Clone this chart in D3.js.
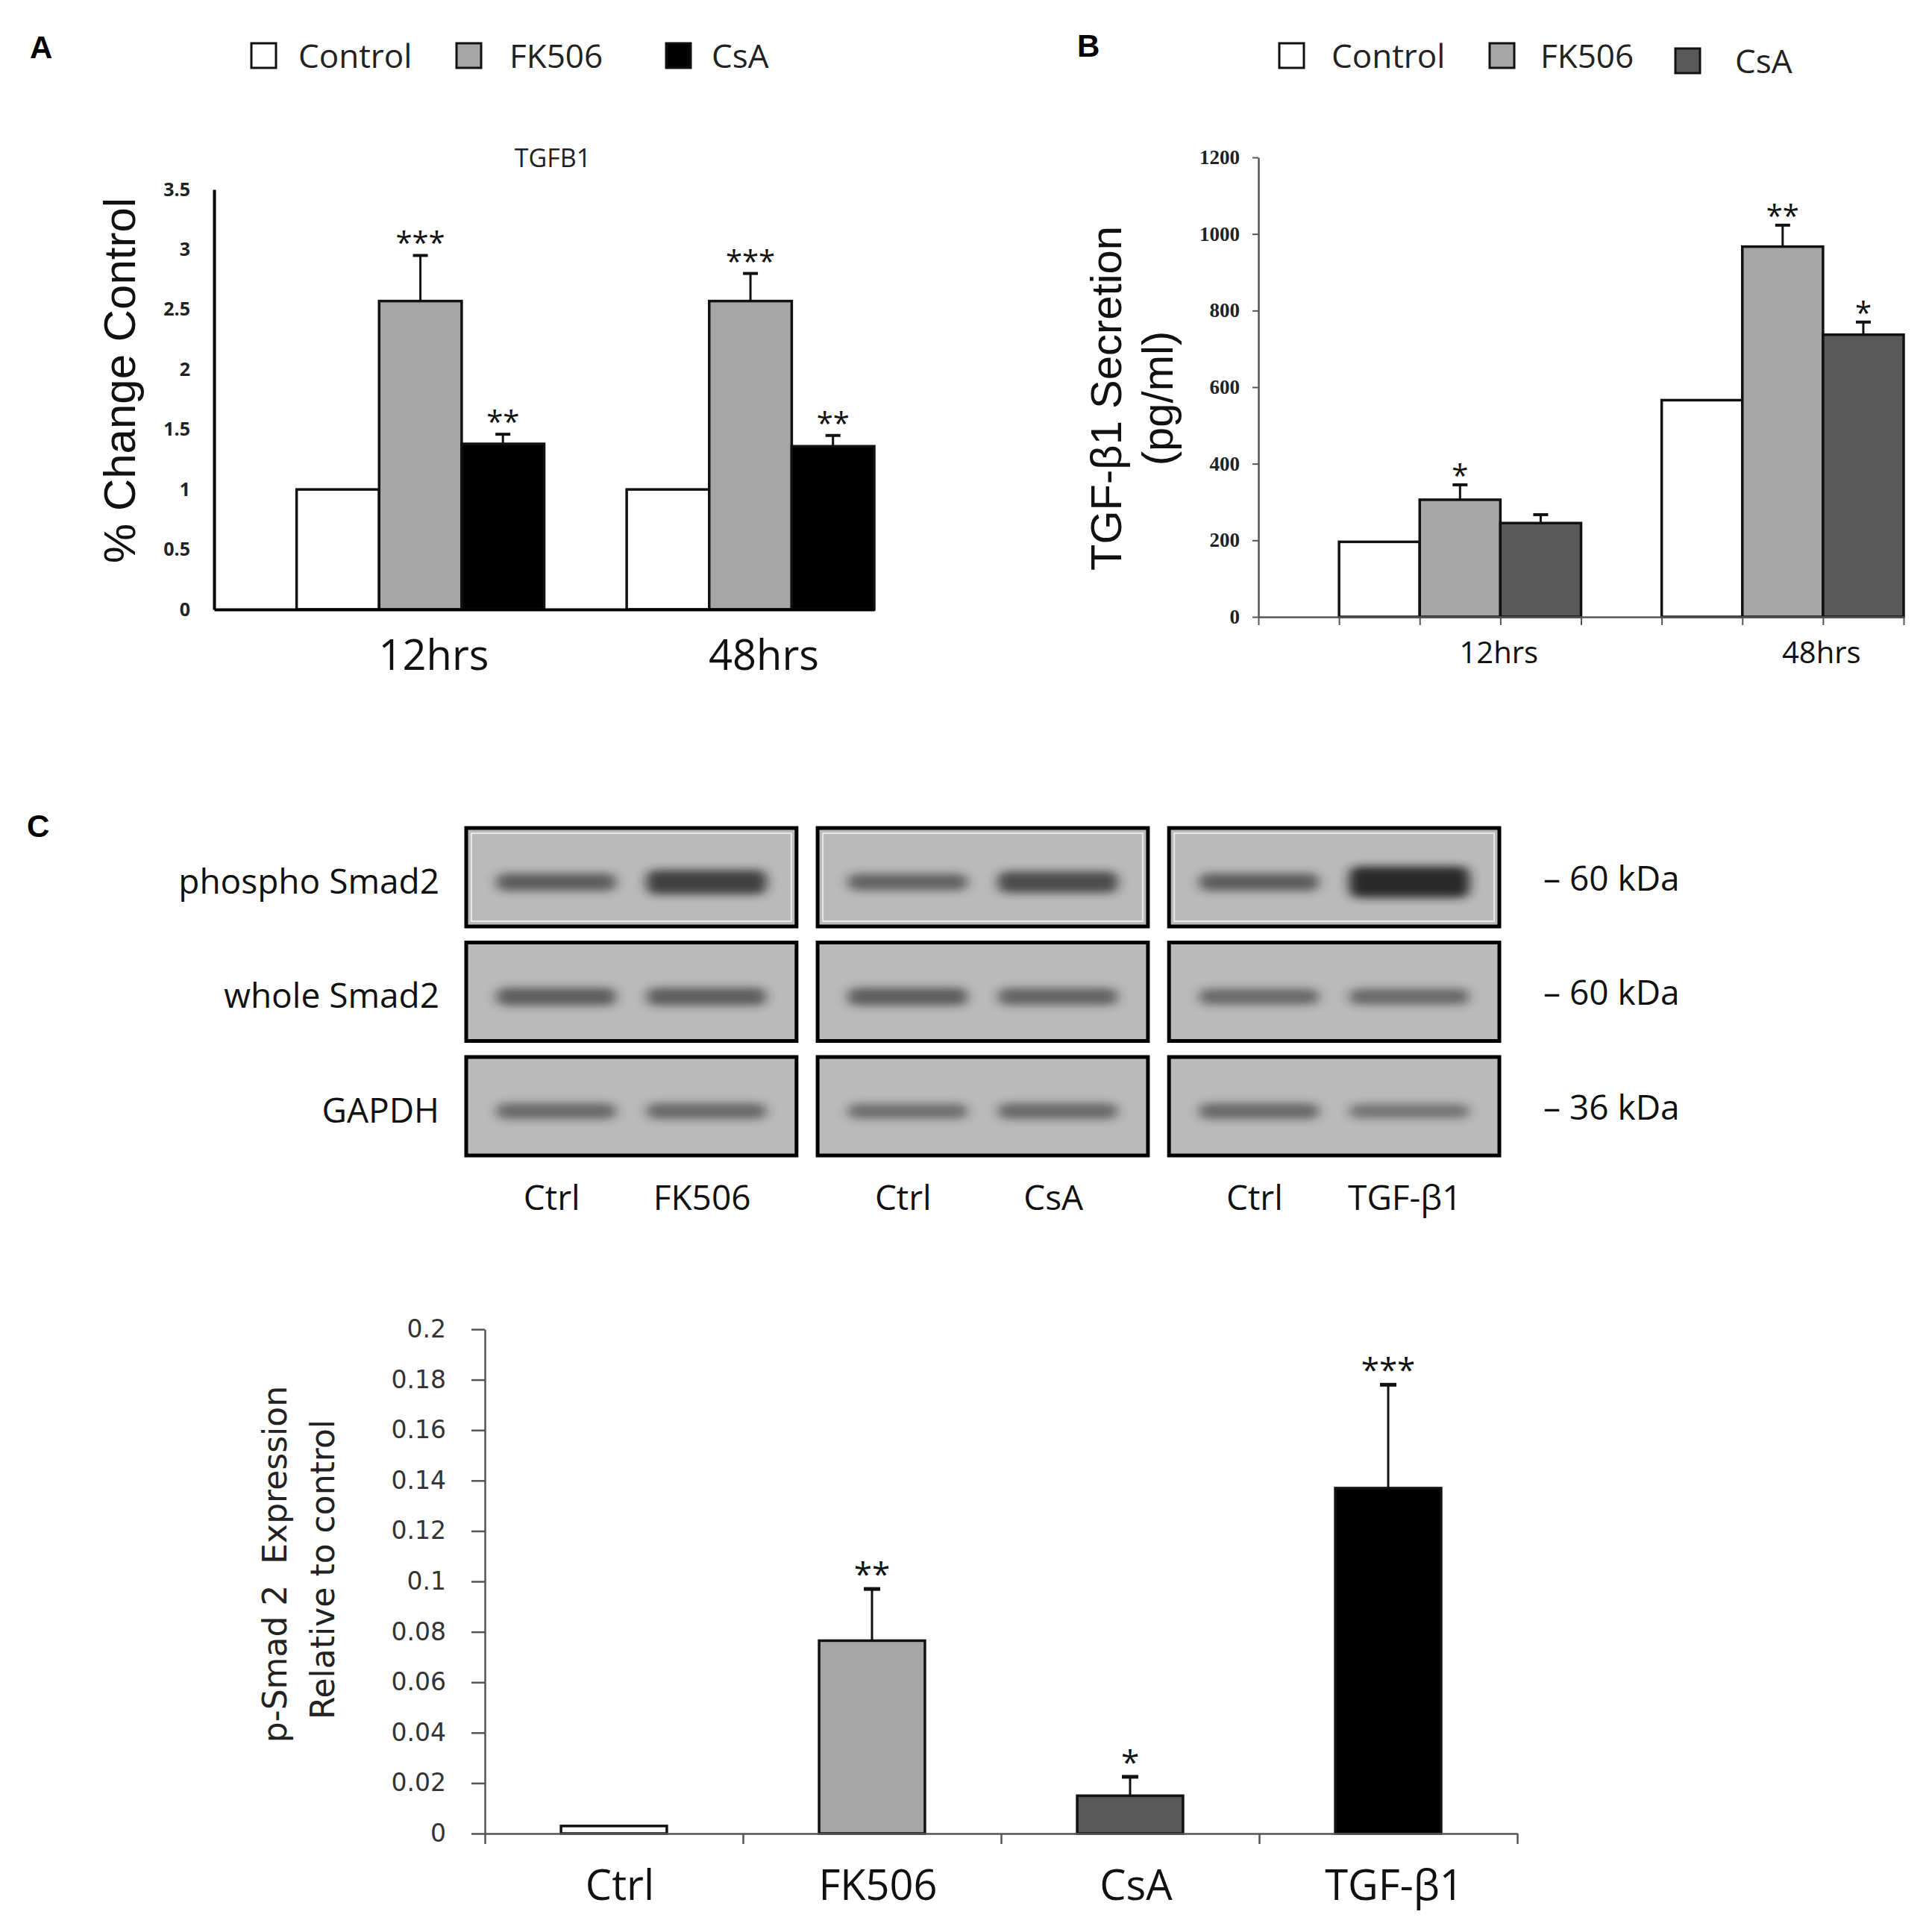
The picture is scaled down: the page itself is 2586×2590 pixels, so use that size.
<!DOCTYPE html>
<html>
<head>
<meta charset="utf-8">
<script src="https://cdnjs.cloudflare.com/ajax/libs/d3/7.8.5/d3.min.js"></script>
<style>
  body { margin: 0; background: #fff; }
</style>
</head>
<body>
<div id="chart-area"></div>
<script>
/*
*    TGF-beta1 / Smad2 figure (panels A, B, C)
*/

// ---- data ----
var timepoints = ["12hrs", "48hrs"];
var groups = ["Control", "FK506", "CsA"];

// panel A: TGFB1 mRNA, fold of control
var mrnaMeans = [[1.0, 2.57, 1.38], [1.0, 2.57, 1.36]];
var mrnaErrors = [[0, 0.38, 0.08], [0, 0.23, 0.09]];
var mrnaStars = [["", "***", "**"], ["", "***", "**"]];
var mrnaTicks = [0, 0.5, 1, 1.5, 2, 2.5, 3, 3.5];

// panel B: secreted TGF-b1 (pg/ml)
var secretionMeans = [[196, 306, 245], [566, 967, 737]];
var secretionErrors = [[0, 39, 22], [0, 56, 33]];
var secretionStars = [["", "*", ""], ["", "**", "*"]];
var secretionTicks = [0, 200, 400, 600, 800, 1000, 1200];

// panel C: blots
var blotRows = ["phospho Smad2", "whole Smad2", "GAPDH"];
var blotSizes = ["– 60 kDa", "– 60 kDa", "– 36 kDa"];
var blotLanes = [["Ctrl", "FK506"], ["Ctrl", "CsA"], ["Ctrl", "TGF-β1"]];
var bandDensity = [
  [[0.55, 0.8], [0.5, 0.7], [0.55, 1.0]],
  [[0.55, 0.55], [0.55, 0.5], [0.45, 0.45]],
  [[0.45, 0.45], [0.4, 0.45], [0.45, 0.35]]
];

// panel C: p-Smad2 quantification
var treatments = ["Ctrl", "FK506", "CsA", "TGF-β1"];
var pSmadMeans = [0.003, 0.0765, 0.015, 0.137];
var pSmadErrors = [0, 0.0205, 0.0075, 0.041];
var pSmadStars = ["", "**", "*", "***"];
var pSmadTicks = [0, 0.02, 0.04, 0.06, 0.08, 0.1, 0.12, 0.14, 0.16, 0.18, 0.2];

var width = 2586;
var height = 2590;

var svg = d3.select("#chart-area").append("svg")
              .attr("width", width)
              .attr("height", height)
              .style("background", "#fff");

var defs = svg.append("defs");
defs.append("filter")
      .attr("id", "blur")
      .attr("x", "-20%").attr("y", "-80%")
      .attr("width", "140%").attr("height", "260%")
    .append("feGaussianBlur")
      .attr("stdDeviation", "8 6");

// panel letters
[["A", 40, 78], ["B", 1444, 76], ["C", 36, 1122]].forEach((p) => {
  svg.append("text")
    .attr("x", p[1]).attr("y", p[2])
    .attr("font-family", "Liberation Sans, Arial, sans-serif")
    .attr("font-weight", "bold")
    .attr("font-size", "42px")
    .text(p[0]);
});

// legend helper
function legend(sqX, txtX, ys, colors) {
  groups.forEach((name, i) => {
    svg.append("rect")
      .attr("x", sqX[i]).attr("y", ys[i] - 33)
      .attr("width", 33).attr("height", 33)
      .attr("fill", colors[i])
      .attr("stroke", "#111").attr("stroke-width", 3);
    svg.append("text")
      .attr("x", txtX[i]).attr("y", ys[i])
      .attr("font-family", "Open Sans, sans-serif")
      .attr("font-size", "44px")
      .style("fill", "#222")
      .text(name);
  });
}

// grouped bar chart helper (A and B share the layout: empty slot + 3 bars per time point)
function groupedBars(cfg) {
  var g = svg.append("g");

  var y = d3.scaleLinear()
            .domain([0, cfg.ticks[cfg.ticks.length - 1]])
            .range([cfg.bottom, cfg.top]);

  var x0 = d3.scaleBand()
            .domain(timepoints)
            .range([cfg.left, cfg.right])
            .paddingInner(0)
            .paddingOuter(0);

  var x1 = d3.scaleBand()
            .domain([""].concat(groups))
            .range([0, x0.bandwidth()]);

  var bars = [];
  timepoints.forEach((t, i) => {
    groups.forEach((s, j) => {
      bars.push({t: t, s: s, j: j, v: cfg.means[i][j], e: cfg.errors[i][j], star: cfg.stars[i][j]});
    });
  });

  g.selectAll("rect.bar")
    .data(bars)
    .enter()
    .append("rect")
      .attr("class", "bar")
      .attr("x", (d) => { return x0(d.t) + x1(d.s); })
      .attr("y", (d) => { return y(d.v); })
      .attr("width", x1.bandwidth())
      .attr("height", (d) => { return y(0) - y(d.v); })
      .attr("fill", (d) => { return cfg.colors[d.j]; })
      .attr("stroke", "#111")
      .attr("stroke-width", 3.5);

  var withErr = bars.filter((d) => { return d.e > 0; });
  var cx = (d) => { return x0(d.t) + x1(d.s) + x1.bandwidth() / 2; };

  g.selectAll("line.err")
    .data(withErr)
    .enter()
    .append("line")
      .attr("class", "err")
      .attr("x1", cx).attr("x2", cx)
      .attr("y1", (d) => { return y(d.v); })
      .attr("y2", (d) => { return y(d.v + d.e); })
      .attr("stroke", "#111").attr("stroke-width", 3);

  g.selectAll("line.cap")
    .data(withErr)
    .enter()
    .append("line")
      .attr("class", "cap")
      .attr("x1", (d) => { return cx(d) - 10; })
      .attr("x2", (d) => { return cx(d) + 10; })
      .attr("y1", (d) => { return y(d.v + d.e); })
      .attr("y2", (d) => { return y(d.v + d.e); })
      .attr("stroke", "#111").attr("stroke-width", 4);

  g.selectAll("text.star")
    .data(withErr.filter((d) => { return d.star !== ""; }))
    .enter()
    .append("text")
      .attr("class", "star")
      .attr("x", cx)
      .attr("y", (d) => { return y(d.v + d.e) + cfg.starShift; })
      .attr("text-anchor", "middle")
      .attr("font-family", "Open Sans, sans-serif")
      .attr("font-size", "40px")
      .style("fill", "#111")
      .text((d) => { return d.star; });

  // y axis
  var leftAxis = d3.axisLeft(y)
                  .tickValues(cfg.ticks)
                  .tickSize(cfg.tickSize)
                  .tickSizeOuter(0)
                  .tickPadding(cfg.tickPadding)
                  .tickFormat((d) => { return String(d); });
  var ya = g.append("g")
            .attr("class", "left axis")
            .attr("transform", "translate(" + cfg.left + ",0)")
            .call(leftAxis);
  ya.select(".domain").attr("stroke", cfg.axisColor).attr("stroke-width", cfg.axisWidth);
  ya.selectAll(".tick line").attr("stroke", cfg.axisColor).attr("stroke-width", 2);
  ya.selectAll("text")
    .attr("font-family", cfg.tickFont)
    .attr("font-weight", "bold")
    .attr("font-size", cfg.tickFontSize)
    .style("fill", "#222");

  // x axis: a tick at every slot edge
  var slots = d3.scaleLinear().domain([0, 8]).range([cfg.left, cfg.right]);
  var bottomAxis = d3.axisBottom(slots)
                    .tickValues(cfg.xTicks ? d3.range(0, 9) : [])
                    .tickSize(11)
                    .tickSizeOuter(0)
                    .tickFormat("");
  var xa = g.append("g")
            .attr("class", "bottom axis")
            .attr("transform", "translate(0," + cfg.bottom + ")")
            .call(bottomAxis);
  xa.select(".domain").attr("stroke", cfg.axisColor).attr("stroke-width", cfg.axisWidth);
  xa.selectAll(".tick line").attr("stroke", cfg.axisColor).attr("stroke-width", 2);

  g.selectAll("text.group")
    .data(timepoints)
    .enter()
    .append("text")
      .attr("class", "group")
      .attr("x", (d) => { return x0(d) + x1("FK506") + x1.bandwidth() / 2 + cfg.labelShift; })
      .attr("y", cfg.labelY)
      .attr("text-anchor", "middle")
      .attr("font-family", "Open Sans, sans-serif")
      .attr("font-size", cfg.labelSize)
      .style("fill", "#111")
      .text((d) => { return d; });

  return g;
}

// ---- panel A ----
legend([337, 612, 893], [400, 683, 954], [91, 91, 91], ["#ffffff", "#a6a6a6", "#000000"]);

svg.append("text")
  .attr("x", 741).attr("y", 224)
  .attr("text-anchor", "middle")
  .attr("font-family", "Open Sans, sans-serif")
  .attr("font-size", "34px")
  .style("fill", "#222")
  .text("TGFB1");

groupedBars({
  means: mrnaMeans, errors: mrnaErrors, stars: mrnaStars, ticks: mrnaTicks,
  colors: ["#ffffff", "#a6a6a6", "#000000"],
  left: 287, right: 1172, top: 254, bottom: 817,
  tickSize: 0, tickPadding: 32, axisColor: "#000", axisWidth: 4,
  tickFont: "Open Sans, sans-serif", tickFontSize: "25px",
  xTicks: false, starShift: -2,
  labelShift: 18, labelY: 898, labelSize: "56px"
});

svg.append("text")
  .attr("transform", "translate(181,510) rotate(-90)")
  .attr("text-anchor", "middle")
  .attr("font-family", "Liberation Sans, Arial, sans-serif")
  .attr("font-size", "60px")
  .style("fill", "#111")
  .text("% Change Control");

// ---- panel B ----
legend([1715, 1997, 2246], [1785, 2065, 2326], [91, 91, 98], ["#ffffff", "#a6a6a6", "#595959"]);

groupedBars({
  means: secretionMeans, errors: secretionErrors, stars: secretionStars, ticks: secretionTicks,
  colors: ["#ffffff", "#a6a6a6", "#595959"],
  left: 1687, right: 2552, top: 211, bottom: 827,
  tickSize: 8, tickPadding: 17, axisColor: "#555", axisWidth: 2.5,
  tickFont: "Liberation Serif, serif", tickFontSize: "27px",
  xTicks: true, starShift: 2,
  labelShift: 52, labelY: 889, labelSize: "40px"
});

svg.append("text")
  .attr("transform", "translate(1503,534) rotate(-90)")
  .attr("text-anchor", "middle")
  .attr("font-family", "Liberation Sans, Arial, sans-serif")
  .attr("font-size", "58px")
  .style("fill", "#111")
  .text("TGF-β1 Secretion");

svg.append("text")
  .attr("transform", "translate(1572,534) rotate(-90)")
  .attr("text-anchor", "middle")
  .attr("font-family", "Liberation Sans, Arial, sans-serif")
  .attr("font-size", "58px")
  .style("fill", "#111")
  .text("(pg/ml)");

// ---- panel C: western blots ----
var colScale = d3.scaleBand().domain([0, 1, 2]).range([625, 2010]).paddingInner(0.06);
var rowScale = d3.scaleBand().domain([0, 1, 2]).range([1110, 1549]).paddingInner(0.14);
var laneScale = d3.scaleBand().domain([0, 1]).range([20, colScale.bandwidth() - 20])
                  .paddingInner(0.2).paddingOuter(0.1);

var blots = svg.append("g").attr("class", "blots");
blotRows.forEach((rowName, r) => {
  blotLanes.forEach((lanes, c) => {
    var bx = colScale(c), by = rowScale(r);
    var bw = colScale.bandwidth(), bh = rowScale.bandwidth();
    var cell = blots.append("g").attr("transform", "translate(" + bx + "," + by + ")");
    cell.append("rect")
      .attr("width", bw).attr("height", bh)
      .attr("fill", "#bababa");
    if (r === 0) {
      cell.append("rect")
        .attr("x", 7).attr("y", 7)
        .attr("width", bw - 14).attr("height", bh - 14)
        .attr("fill", "none")
        .attr("stroke", "#e8e8e8").attr("stroke-width", 2);
    }
    cell.selectAll("rect.band")
      .data(bandDensity[r][c])
      .enter()
      .append("rect")
        .attr("class", "band")
        .attr("x", (d, i) => { return laneScale(i); })
        .attr("width", laneScale.bandwidth())
        .attr("y", (d) => { return bh * 0.55 - (16 + 26 * d * d) / 2; })
        .attr("height", (d) => { return 16 + 26 * d * d; })
        .attr("rx", 12)
        .attr("fill", "#222")
        .attr("opacity", (d) => { return 0.2 + 0.75 * d; })
        .attr("filter", "url(#blur)");
    cell.append("rect")
      .attr("width", bw).attr("height", bh)
      .attr("fill", "none")
      .attr("stroke", "#000").attr("stroke-width", 5);
  });

  svg.append("text")
    .attr("x", 589).attr("y", rowScale(r) + 88)
    .attr("text-anchor", "end")
    .attr("font-family", "Open Sans, sans-serif")
    .attr("font-size", "46px")
    .style("fill", "#111")
    .text(rowName);

  svg.append("text")
    .attr("x", 2069).attr("y", rowScale(r) + 84)
    .attr("font-family", "Open Sans, sans-serif")
    .attr("font-size", "46px")
    .style("fill", "#111")
    .text(blotSizes[r]);
});

blotLanes.forEach((lanes, c) => {
  lanes.forEach((lane, i) => {
    svg.append("text")
      .attr("x", colScale(c) + laneScale(i) + laneScale.bandwidth() / 2 - 6)
      .attr("y", 1622)
      .attr("text-anchor", "middle")
      .attr("font-family", "Open Sans, sans-serif")
      .attr("font-size", "46px")
      .style("fill", "#111")
      .text(lane);
  });
});

// ---- panel C: p-Smad2 bar chart ----
var cLeft = 650, cRight = 2034, cTop = 1782, cBottom = 2458;
var gc = svg.append("g");

var yc = d3.scaleLinear().domain([0, 0.2]).range([cBottom, cTop]);
var xc = d3.scaleBand()
          .domain(treatments)
          .range([cLeft, cRight])
          .paddingInner(0.59)
          .paddingOuter(0.295);
var cColors = ["#ffffff", "#a6a6a6", "#595959", "#000000"];

var cData = treatments.map((t, i) => {
  return {t: t, v: pSmadMeans[i], e: pSmadErrors[i], star: pSmadStars[i], c: cColors[i]};
});

gc.selectAll("rect.bar")
  .data(cData)
  .enter()
  .append("rect")
    .attr("class", "bar")
    .attr("x", (d) => { return xc(d.t); })
    .attr("y", (d) => { return yc(d.v); })
    .attr("width", xc.bandwidth())
    .attr("height", (d) => { return yc(0) - yc(d.v); })
    .attr("fill", (d) => { return d.c; })
    .attr("stroke", "#111")
    .attr("stroke-width", 3.5);

var cErr = cData.filter((d) => { return d.e > 0; });
var ccx = (d) => { return xc(d.t) + xc.bandwidth() / 2; };

gc.selectAll("line.err")
  .data(cErr)
  .enter()
  .append("line")
    .attr("x1", ccx).attr("x2", ccx)
    .attr("y1", (d) => { return yc(d.v); })
    .attr("y2", (d) => { return yc(d.v + d.e); })
    .attr("stroke", "#111").attr("stroke-width", 3);

gc.selectAll("line.cap")
  .data(cErr)
  .enter()
  .append("line")
    .attr("x1", (d) => { return ccx(d) - 11; })
    .attr("x2", (d) => { return ccx(d) + 11; })
    .attr("y1", (d) => { return yc(d.v + d.e); })
    .attr("y2", (d) => { return yc(d.v + d.e); })
    .attr("stroke", "#111").attr("stroke-width", 5);

gc.selectAll("text.star")
  .data(cErr)
  .enter()
  .append("text")
    .attr("x", ccx)
    .attr("y", (d) => { return yc(d.v + d.e) - 4; })
    .attr("text-anchor", "middle")
    .attr("font-family", "Open Sans, sans-serif")
    .attr("font-size", "44px")
    .style("fill", "#111")
    .text((d) => { return d.star; });

var cLeftAxis = d3.axisLeft(yc)
                  .tickValues(pSmadTicks)
                  .tickSize(18)
                  .tickSizeOuter(0)
                  .tickPadding(34)
                  .tickFormat((d) => { return String(d); });
var cya = gc.append("g")
            .attr("class", "left axis")
            .attr("transform", "translate(" + cLeft + ",0)")
            .call(cLeftAxis);
cya.select(".domain").attr("stroke", "#555").attr("stroke-width", 2.5);
cya.selectAll(".tick line").attr("stroke", "#555").attr("stroke-width", 2.5);
cya.selectAll("text")
  .attr("font-family", "DejaVu Sans, Verdana, sans-serif")
  .attr("font-size", "33px")
  .style("fill", "#333");

var cSlots = d3.scaleLinear().domain([0, treatments.length]).range([cLeft, cRight]);
var cxa = gc.append("g")
            .attr("class", "bottom axis")
            .attr("transform", "translate(0," + cBottom + ")")
            .call(d3.axisBottom(cSlots)
                    .tickValues(d3.range(0, treatments.length + 1))
                    .tickSize(14)
                    .tickSizeOuter(0)
                    .tickFormat(""));
cxa.select(".domain").attr("stroke", "#555").attr("stroke-width", 2.5);
cxa.selectAll(".tick line").attr("stroke", "#555").attr("stroke-width", 2.5);

gc.selectAll("text.cat")
  .data(treatments)
  .enter()
  .append("text")
    .attr("class", "cat")
    .attr("x", (d) => { return xc(d) + xc.bandwidth() / 2 + 8; })
    .attr("y", 2547)
    .attr("text-anchor", "middle")
    .attr("font-family", "Open Sans, sans-serif")
    .attr("font-size", "56px")
    .style("fill", "#111")
    .text((d) => { return d; });

svg.append("text")
  .attr("transform", "translate(384,2097) rotate(-90)")
  .attr("text-anchor", "middle")
  .attr("font-family", "DejaVu Sans, Verdana, sans-serif")
  .attr("font-size", "44px")
  .style("white-space", "pre")
  .style("fill", "#222")
  .text("p-Smad 2  Expression");

svg.append("text")
  .attr("transform", "translate(448,2104) rotate(-90)")
  .attr("text-anchor", "middle")
  .attr("font-family", "DejaVu Sans, Verdana, sans-serif")
  .attr("font-size", "44px")
  .style("fill", "#222")
  .text("Relative to control");
</script>
</body>
</html>
